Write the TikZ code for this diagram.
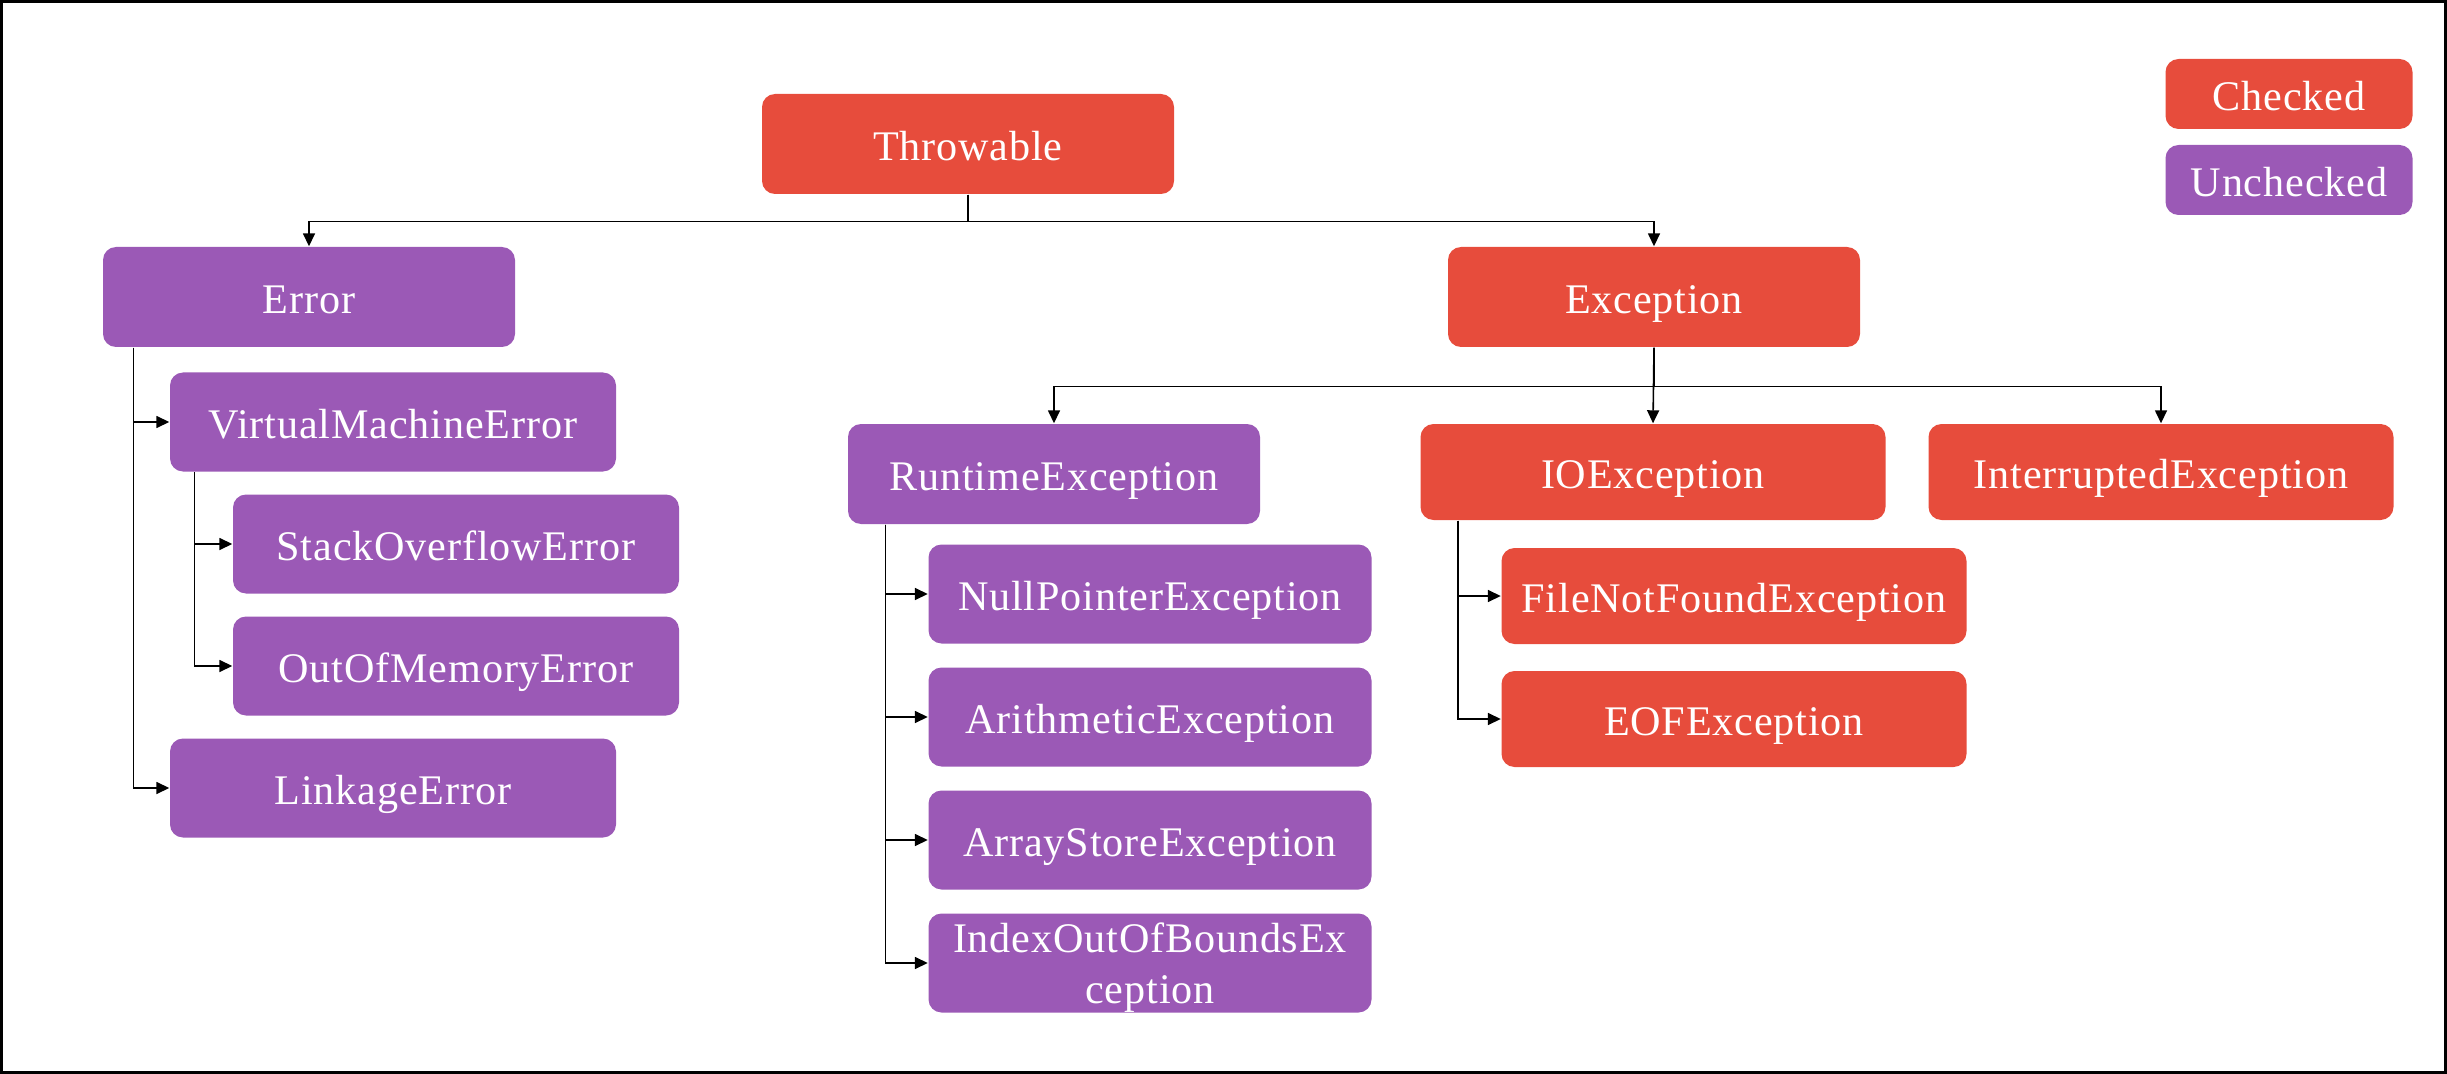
\documentclass[tikz,border=0pt]{standalone}
\usepackage{fontspec}
\setmainfont{Liberation Serif}[LetterSpace=2]
\usetikzlibrary{arrows.meta}
\definecolor{chkred}{HTML}{E74C3C}
\definecolor{unchkpurple}{HTML}{9B59B6}
\tikzset{
  cls/.style={rounded corners=0.13cm, text=white, inner sep=0pt, align=center,
    font=\fontsize{12}{14.5}\selectfont, text height=11.2pt, text depth=1.7pt},
  checked/.style={cls, fill=chkred},
  unchecked/.style={cls, fill=unchkpurple},
  twolines/.style={text height=, text depth=0pt},
  topsize/.style={minimum width=4.12cm, minimum height=1cm},
  iosize/.style={minimum width=4.65cm, minimum height=0.96cm},
  errsize/.style={minimum width=4.46cm, minimum height=0.99cm},
  rtsize/.style={minimum width=4.43cm, minimum height=0.99cm},
  keysize/.style={minimum width=2.47cm, minimum height=0.7cm},
  link/.style={line width=0.45pt, -{Triangle[length=1.3mm,width=1.2mm]}}
}
\begin{document}
\begin{tikzpicture}
\useasboundingbox (0,0) rectangle (24.47,-10.74);
\draw[line width=0.9pt] (0.016,-0.016) rectangle (24.454,-10.724);
\node[checked, keysize] (keychecked) at (22.89,-0.94) {Checked};
\node[unchecked, keysize] (keyunchecked) at (22.89,-1.80) {Unchecked};
\node[checked, topsize] (throwable) at (9.68,-1.44) {Throwable};
\node[unchecked, topsize] (error) at (3.09,-2.97) {Error};
\node[checked, topsize] (exception) at (16.54,-2.97) {Exception};
\node[unchecked, errsize] (vmerror) at (3.93,-4.22) {VirtualMachineError};
\node[unchecked, errsize] (soerror) at (4.56,-5.44) {StackOverflowError};
\node[unchecked, errsize] (oomerror) at (4.56,-6.66) {OutOfMemoryError};
\node[unchecked, errsize] (linkerror) at (3.93,-7.88) {LinkageError};
\node[unchecked, topsize] (runtime) at (10.54,-4.74) {RuntimeException};
\node[unchecked, rtsize] (nullptr) at (11.50,-5.94) {NullPointerException};
\node[unchecked, rtsize] (arith) at (11.50,-7.17) {ArithmeticException};
\node[unchecked, rtsize] (arraystore) at (11.50,-8.40) {ArrayStoreException};
\node[unchecked, rtsize, twolines] (indexoob) at (11.50,-9.63) {IndexOutOfBoundsEx\\ception};
\node[checked, iosize] (ioexc) at (16.53,-4.72) {IOException};
\node[checked, iosize] (interrupted) at (21.61,-4.72) {InterruptedException};
\node[checked, iosize] (filenotfound) at (17.34,-5.96) {FileNotFoundException};
\node[checked, iosize] (eofexc) at (17.34,-7.19) {EOFException};
\draw[link] (throwable.south) -- ++(0,-0.27) -| (error.north);
\draw[link] (throwable.south) -- ++(0,-0.27) -| (exception.north);
\draw[link] ([xshift=0.31cm]error.south west) |- (vmerror.west);
\draw[link] ([xshift=0.31cm]error.south west) |- (linkerror.west);
\draw[link] ([xshift=0.25cm]vmerror.south west) |- (soerror.west);
\draw[link] ([xshift=0.25cm]vmerror.south west) |- (oomerror.west);
\draw[link] (exception.south) -- ++(0,-0.39) -| (runtime.north);
\draw[link] (exception.south) -- (ioexc.north);
\draw[link] (exception.south) -- ++(0,-0.39) -| (interrupted.north);
\draw[link] ([xshift=0.38cm]runtime.south west) |- (nullptr.west);
\draw[link] ([xshift=0.38cm]runtime.south west) |- (arith.west);
\draw[link] ([xshift=0.38cm]runtime.south west) |- (arraystore.west);
\draw[link] ([xshift=0.38cm]runtime.south west) |- (indexoob.west);
\draw[link] ([xshift=0.38cm]ioexc.south west) |- (filenotfound.west);
\draw[link] ([xshift=0.38cm]ioexc.south west) |- (eofexc.west);
\end{tikzpicture}
\end{document}
